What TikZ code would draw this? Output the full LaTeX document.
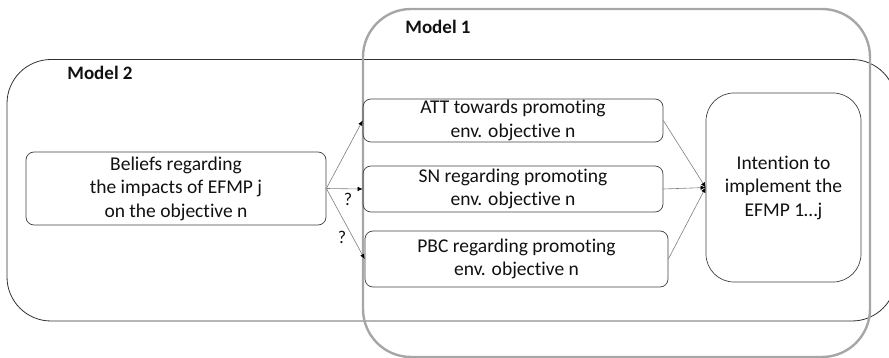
\documentclass[tikz,border=0pt]{standalone}
\usepackage{fontspec}
\setmainfont{Carlito}[Ligatures=CommonOff]
\usetikzlibrary{arrows.meta}

\definecolor{boxline}{HTML}{404040}
\definecolor{outerline}{HTML}{303030}
\definecolor{modelone}{HTML}{A6A6A6}
\definecolor{linkline}{HTML}{7F7F7F}
\definecolor{txt}{HTML}{111111}

\tikzset{
  construct/.style={draw=boxline, line width=0.7pt, rounded corners=8pt,
    align=center, inner sep=0pt, text=txt,
    font=\fontsize{19.5}{23.5}\selectfont},
  link/.style={draw=linkline, line width=0.6pt,
    -{Latex[length=5pt,width=4.5pt,color=black]}},
  modeltitle/.style={font=\fontsize{19}{22}\selectfont\bfseries, text=txt, inner sep=0pt},
  qmark/.style={font=\fontsize{18}{20}\selectfont, text=txt, inner sep=0pt}
}

\begin{document}
\begin{tikzpicture}[x=1pt,y=-1pt]
  \useasboundingbox (0,0) rectangle (889,358);
  \clip (0,0) rectangle (889,358);

  % outer frames of the two models
  \draw[draw=outerline, line width=0.8pt, rounded corners=44pt]
    (7,59.5) rectangle (896,321);
  \draw[draw=modelone, line width=2.4pt, rounded corners=48pt]
    (363,9) rectangle (870,357);

  \node[modeltitle] (m2) at (100,73) {Model 2};
  \node[modeltitle] (m1) at (438,27) {Model 1};

  % constructs
  \node[construct, minimum width=300pt, minimum height=73pt] (bel) at (176,188.5)
    {Beliefs regarding\\the impacts of EFMP j\\on the objective n};
  \node[construct, minimum width=300pt, minimum height=43pt] (att) at (513,120.5)
    {ATT towards promoting\\env. objective n};
  \node[construct, minimum width=300pt, minimum height=46pt] (sn) at (513,189)
    {SN regarding promoting\\env. objective n};
  \node[construct, minimum width=303pt, minimum height=56pt] (pbc) at (516.5,259)
    {PBC regarding promoting\\env. objective n};
  \node[construct, rounded corners=28pt, minimum width=155pt, minimum height=189pt]
    (int) at (783.5,187.5) {Intention to\\implement the\\EFMP 1…j};

  % links
  \draw[link] (bel.east) -- (att.west);
  \draw[link] (bel.east) -- (sn.west);
  \draw[link] (bel.east) -- (pbc.west);
  \draw[link] (att.east) -- (int.west);
  \draw[link] (sn.east) -- (int.west);
  \draw[link] (pbc.east) -- (int.west);

  \node[qmark] (q1) at (348,199) {?};
  \node[qmark] (q2) at (342,237) {?};
\end{tikzpicture}
\end{document}
